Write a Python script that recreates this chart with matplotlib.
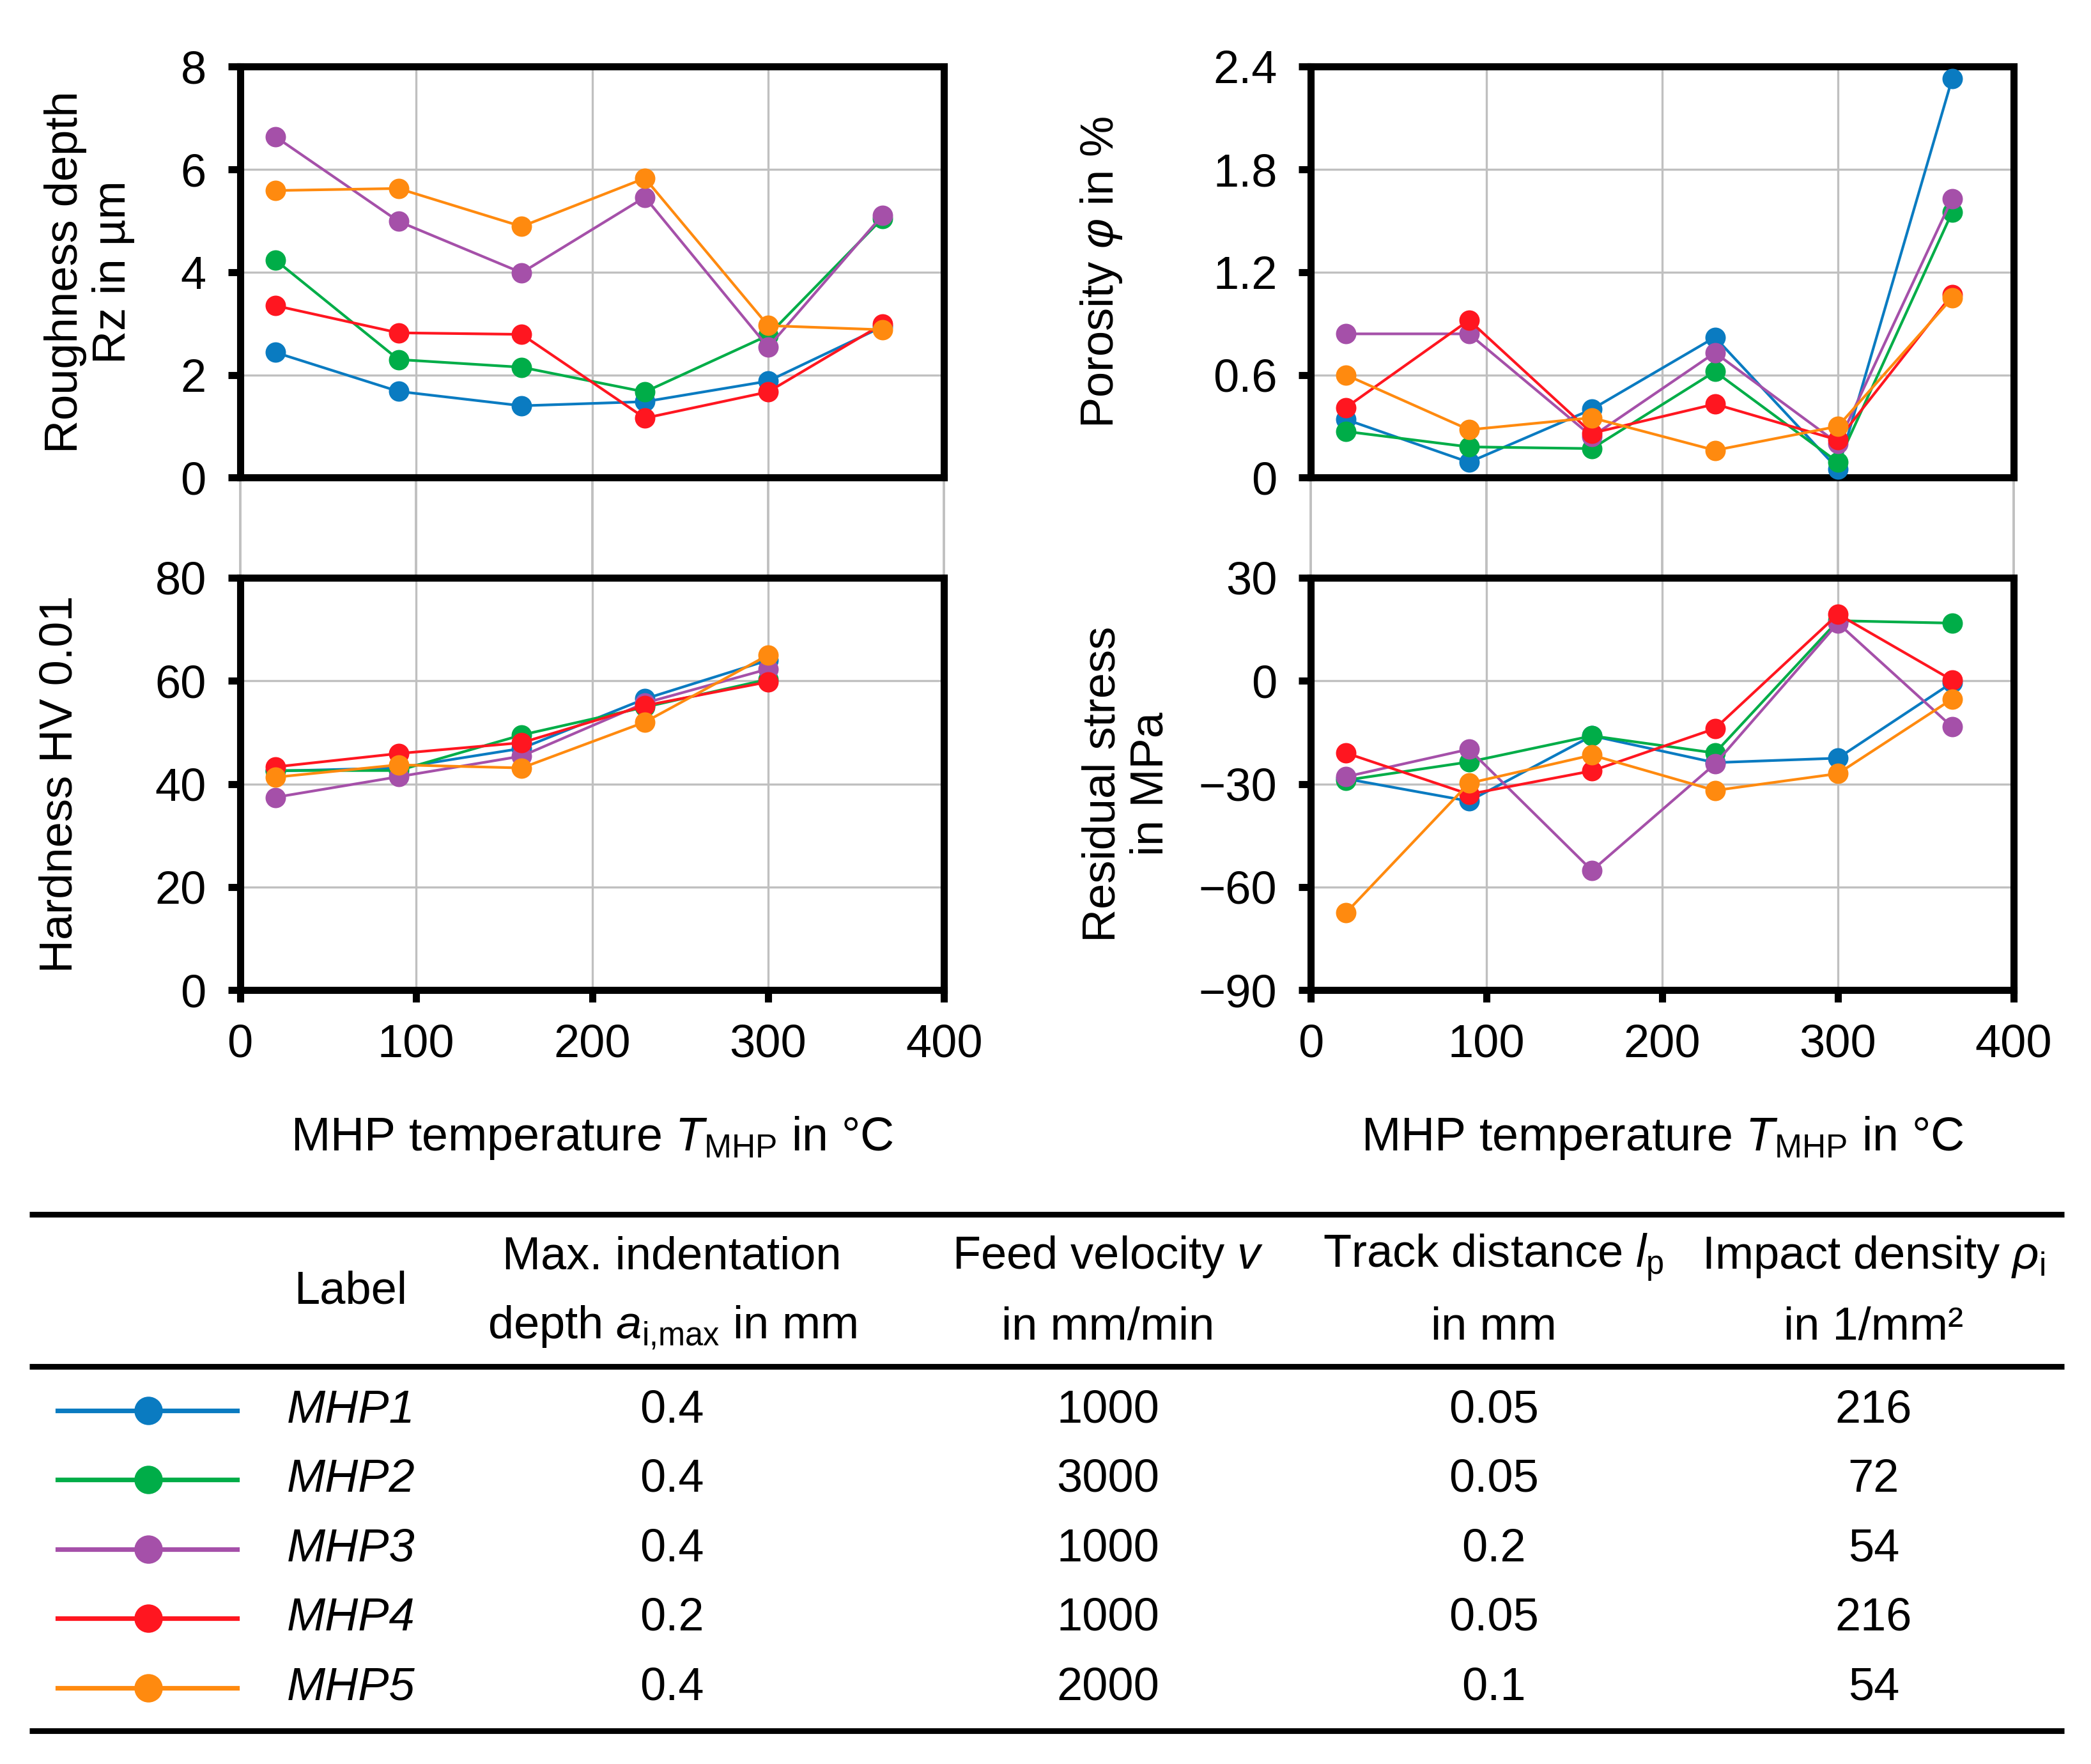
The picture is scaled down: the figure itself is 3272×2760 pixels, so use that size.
import numpy as np
import matplotlib
matplotlib.use("Agg")
import matplotlib.pyplot as plt

plt.rcParams['font.family'] = ['Liberation Sans', 'DejaVu Sans']
plt.rcParams['mathtext.fontset'] = 'custom'
plt.rcParams['mathtext.rm'] = 'Liberation Sans'
plt.rcParams['mathtext.it'] = 'Liberation Sans:italic'
plt.rcParams['mathtext.bf'] = 'Liberation Sans:bold'
plt.rcParams['font.size'] = 26

# data
temps = [20, 90, 160, 230, 300, 365]
series = ['MHP1', 'MHP2', 'MHP3', 'MHP4', 'MHP5']
colors = ['#0A7BC1', '#00AD48', '#A550A9', '#FF1620', '#FF8A0F']

roughness = [
    [2.44, 1.68, 1.40, 1.48, 1.88, 2.94],
    [4.24, 2.30, 2.15, 1.67, 2.77, 5.05],
    [6.64, 4.99, 3.99, 5.46, 2.54, 5.11],
    [3.35, 2.82, 2.79, 1.16, 1.67, 2.99],
    [5.59, 5.63, 4.89, 5.83, 2.96, 2.88],
]
porosity = [
    [0.34, 0.09, 0.40, 0.82, 0.05, 2.33],
    [0.27, 0.18, 0.17, 0.62, 0.09, 1.55],
    [0.84, 0.84, 0.24, 0.73, 0.20, 1.63],
    [0.41, 0.92, 0.26, 0.43, 0.22, 1.07],
    [0.60, 0.28, 0.35, 0.16, 0.30, 1.05],
]
hardness = [
    [42.5, 43.1, 46.9, 56.5, 64.0],
    [42.6, 42.6, 49.5, 54.9, 60.3],
    [37.4, 41.4, 45.4, 55.7, 62.3],
    [43.3, 45.9, 48.0, 55.2, 59.8],
    [41.3, 43.7, 43.1, 52.0, 65.0],
]
stress = [
    [-28.5, -35.0, -16.0, -23.8, -22.5, -0.5],
    [-28.9, -23.6, -16.0, -21.0, 17.5, 16.8],
    [-27.9, -19.9, -55.2, -24.2, 16.8, -13.4],
    [-21.0, -33.0, -26.2, -13.9, 19.4, 0.2],
    [-67.5, -29.8, -21.6, -31.9, -27.0, -5.3],
]

# table contents
depth = ['0.4', '0.4', '0.4', '0.2', '0.4']
feed = ['1000', '3000', '1000', '1000', '2000']
track = ['0.05', '0.05', '0.2', '0.05', '0.1']
density = ['216', '72', '54', '216', '54']

W, H = 1568.0, 1322.0   # layout units of the reference
fig = plt.figure(figsize=(16.36, 13.8), dpi=200)


def rect(x0, x1, ytop, ybot):
    return [x0 / W, 1 - ybot / H, (x1 - x0) / W, (ybot - ytop) / H]


GRID = '#C0C0C0'
SPINE = 4.0


def panel(r, values, ylim, yticks, yticklabels, ylabel, label_x, bottom):
    ax = fig.add_axes(r, zorder=2)
    ax.set_facecolor('white')
    for vals, c in zip(values, colors):
        ax.plot(temps[:len(vals)], vals, color=c, lw=1.5, marker='o', ms=10.5,
                clip_on=False, zorder=3)
    ax.set_xlim(0, 400)
    ax.set_ylim(*ylim)
    ax.set_xticks([0, 100, 200, 300, 400])
    ax.set_yticks(yticks)
    ax.set_yticklabels(yticklabels)
    ax.grid(True, color=GRID, lw=1.2)
    ax.set_axisbelow(True)
    for s in ax.spines.values():
        s.set_linewidth(SPINE)
    ax.tick_params(axis='y', direction='out', length=7, width=SPINE, pad=12,
                   labelsize=26)
    if bottom:
        ax.tick_params(axis='x', direction='out', length=7, width=SPINE,
                       pad=12, labelsize=26)
        ax.set_xlabel(r'MHP temperature $T_{\mathrm{MHP}}$ in °C', fontsize=26.5)
        ax.xaxis.set_label_coords(0.5, -0.358)
        ax.xaxis.label.set_va('center')
    else:
        ax.tick_params(axis='x', length=0, labelbottom=False)
    ax.set_ylabel(ylabel, fontsize=26, linespacing=1.15)
    ax.yaxis.set_label_coords(label_x, 0.5)
    ax.yaxis.label.set_va('center')
    return ax


# vertical grid running through the gap between stacked panels
for x0, x1 in [(180, 708), (983, 1510)]:
    bg = fig.add_axes(rect(x0, x1, 50, 742), zorder=0)
    bg.set_xlim(0, 400)
    bg.set_xticks([0, 100, 200, 300, 400])
    bg.set_yticks([])
    bg.grid(True, axis='x', color=GRID, lw=1.4)
    bg.tick_params(length=0, labelbottom=False)
    for s in bg.spines.values():
        s.set_visible(False)
    for gl in bg.get_xgridlines():
        gl.set_clip_on(False)

panel(rect(180, 708, 50, 358), roughness, (0, 8), [0, 2, 4, 6, 8],
      ['0', '2', '4', '6', '8'], 'Roughness depth\nRz in µm', -0.214, False)
panel(rect(180, 708, 433, 742), hardness, (0, 80), [0, 20, 40, 60, 80],
      ['0', '20', '40', '60', '80'], 'Hardness HV 0.01', -0.256, True)
panel(rect(983, 1510, 50, 358), porosity, (0, 2.4), [0, 0.6, 1.2, 1.8, 2.4],
      ['0', '0.6', '1.2', '1.8', '2.4'], r'Porosity $\varphi$ in %', -0.298, False)
panel(rect(983, 1510, 433, 742), stress, (-90, 30), [-90, -60, -30, 0, 30],
      ['\u221290', '\u221260', '\u221230', '0', '30'], 'Residual stress\nin MPa',
      -0.262, True)

# table below the charts
tb = fig.add_axes([0, 0, 1, 1], zorder=1)
tb.set_xlim(0, W)
tb.set_ylim(H, 0)
tb.axis('off')
tb.patch.set_alpha(0)

for y in [910, 1024, 1297]:
    tb.plot([22, 1548], [y, y], color='black', lw=3.2, solid_capstyle='butt')

cols = [263, 504, 831, 1120, 1405]
tb.text(cols[0], 968, 'Label', ha='center', va='center', fontsize=26)
head1 = ['Max. indentation', r'Feed velocity $v$', r'Track distance $l_{\mathrm{p}}$',
         r'Impact density $\rho_{\mathrm{i}}$']
head2 = [r'depth $a_{\mathrm{i{,}max}}$ in mm', 'in mm/min', 'in mm', 'in 1/mm²']
for cx, h1, h2 in zip(cols[1:], head1, head2):
    tb.text(cx, 942, h1, ha='center', va='center', fontsize=26)
    tb.text(cx, 995, h2, ha='center', va='center', fontsize=26)

for i, name in enumerate(series):
    y = 1057 + 52 * i
    tb.plot([43, 178], [y, y], color=colors[i], lw=2.6)
    tb.plot([111], [y], color=colors[i], marker='o', ms=15)
    tb.text(cols[0], y, name, ha='center', va='center', fontsize=26,
            style='italic')
    for cx, v in zip(cols[1:], [depth[i], feed[i], track[i], density[i]]):
        tb.text(cx, y, v, ha='center', va='center', fontsize=26)

fig.savefig('out.png', dpi=200, facecolor='white')
